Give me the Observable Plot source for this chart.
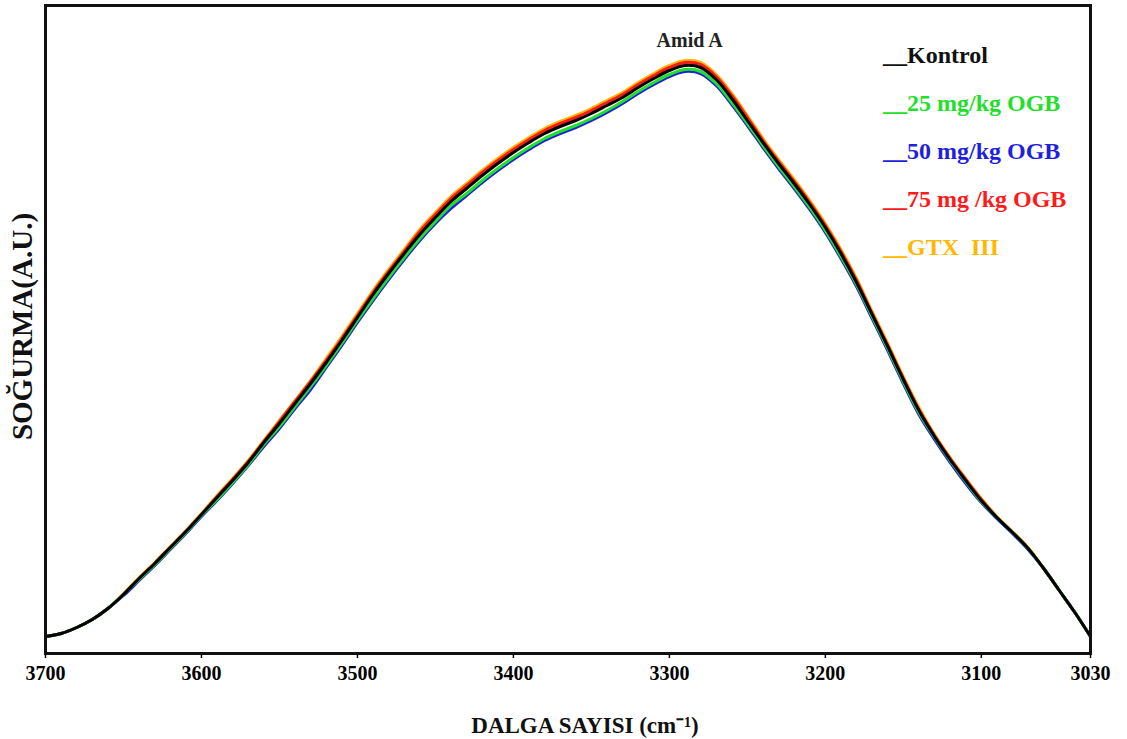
<!DOCTYPE html>
<html><head><meta charset="utf-8">
<script src="https://cdn.jsdelivr.net/npm/d3@7"></script>
<script src="https://cdn.jsdelivr.net/npm/@observablehq/plot@0.6"></script>
<style>
body{margin:0;background:#fff;}
#chart{width:1127px;height:739px;}
</style>
</head><body><div id="chart"></div>
<script>
// Wavenumbers (cm-1)
const wavenumbers = [3700,3690,3680,3670,3660,3650,3640,3630,3620,3610,3600,3590,3580,3570,3560,3550,3540,3530,3520,3510,3500,3490,3480,3470,3460,3450,3440,3430,3420,3410,3400,3390,3380,3370,3360,3350,3340,3330,3320,3310,3300,3290,3280,3270,3260,3250,3240,3230,3220,3210,3200,3190,3180,3170,3160,3150,3140,3130,3120,3110,3100,3090,3080,3070,3060,3050,3040,3030];

// Absorbance (arbitrary units) per group
const kontrol = [17,20,26,34,45,59,75,90,106,122,139,156,173,191,211,230,250,270,291,313,336,359,380,400,419,436,452,465,478,490,501,511,520,527,533,540,548,556,566,575,583,588,586,574,555,533,511,490,470,449,426,400,371,339,307,274,243,217,194,173,153,136,121,105,85,63,41,17];
const ogb25 = [17,20,26,34,45,59,74,89,105,121,138,154,171,189,209,227,247,267,288,310,333,355,376,396,415,432,448,460,473,485,496,506,515,522,528,535,543,552,562,571,579,584,582,570,551,530,508,487,467,446,423,397,369,337,305,272,241,216,193,172,152,136,121,105,85,63,41,17];
const ogb50 = [17,20,26,34,45,58,73,88,104,120,137,153,170,188,207,225,245,264,286,308,331,353,374,394,413,430,445,458,471,483,494,504,513,520,526,533,541,550,560,569,577,582,580,568,549,528,506,485,465,444,421,395,367,335,303,270,239,214,191,170,151,135,120,104,85,63,41,17];
const ogb75 = [17,20,26,34,45,59,75,90,106,122,139,157,174,192,212,232,252,272,293,315,338,361,382,402,422,439,455,468,481,493,504,514,523,530,536,543,551,559,569,578,586,591,589,577,558,536,513,492,472,451,428,402,373,340,308,275,244,218,195,174,154,136,121,105,85,63,41,17];
const gtx3 = [17,20,26,34,45,60,76,91,107,123,140,158,175,193,213,233,253,273,295,317,340,363,384,404,424,441,457,470,483,495,506,516,525,532,538,545,553,561,571,580,588,593,591,579,560,538,515,494,474,453,430,404,375,342,310,277,246,219,196,175,155,137,122,106,85,63,41,17];

const seriesNames = ["Kontrol","25 mg/kg OGB","50 mg/kg OGB","75 mg /kg OGB","GTX  III"];
const seriesColors = ["#000000","#22e02a","#1f1fe0","#ff1a1a","#ffb800"];
const seriesValues = [kontrol, ogb25, ogb50, ogb75, gtx3];
const xTicks = [3700,3600,3500,3400,3300,3200,3100,3030];

// draw order: orange, red, blue, green, black on top
const drawOrder = [4,3,2,1,0];
const rows = [];
for (const s of drawOrder) {
  wavenumbers.forEach((w,i) => rows.push({wn:w, a:seriesValues[s][i], series:seriesNames[s], order:s}));
}

const serif = "'Liberation Serif','Times New Roman',serif";

const plot = Plot.plot({
  width: 1127,
  height: 739,
  marginLeft: 45,
  marginRight: 37,
  marginTop: 5,
  marginBottom: 86,
  style: {fontFamily: serif, background: "#fff"},
  x: {domain: [3700, 3030], ticks: xTicks},
  y: {domain: [0, 648], axis: null},
  color: {domain: seriesNames, range: seriesColors},
  marks: [
    ...drawOrder.map(s => Plot.line(rows.filter(r => r.order === s), {
      x: "wn", y: "a", stroke: seriesColors[s], strokeWidth: 3, curve: "catmull-rom"
    })),
    Plot.axisX({ticks: xTicks, tickSize: 5, tickPadding: 7, fontSize: 20, fontWeight: "bold", label: null, tickFormat: d => String(d), stroke: "#000", strokeWidth: 1.5}),
    Plot.frame({stroke: "#111", strokeWidth: 3}),
    Plot.text([{wn: 3287, a: 610, t: "Amid A"}], {x: "wn", y: "a", text: "t", fontSize: 20, fontWeight: "bold", fill: "#222", lineAnchor: "bottom", dy: 3}),
    Plot.text(["DALGA SAYISI (cm\u207B\u00B9)"], {frameAnchor: "bottom", dx: 17, dy: 79, fontSize: 23, fontWeight: "bold", fill: "#111", lineAnchor: "bottom"}),
    Plot.text(["SOĞURMA(A.U.)"], {frameAnchor: "left", dx: -23, dy: -3, rotate: -90, textAnchor: "middle", fontSize: 29, fontWeight: "bold", fill: "#111"})
  ]
});

document.getElementById("chart").appendChild(plot);

// Legend (drawn in the SVG, top right inside the frame)
const svg = d3.select(plot);
const legend = svg.append("g").attr("font-family", serif).attr("font-weight", "bold").attr("font-size", 24).attr("text-anchor", "start");
seriesNames.forEach((name, i) => {
  legend.append("text")
    .attr("x", 883)
    .attr("y", 63 + i * 48)
    .attr("fill", seriesColors[i] === "#000000" ? "#111" : seriesColors[i])
    .text("__" + name);
});
</script>
</body></html>
